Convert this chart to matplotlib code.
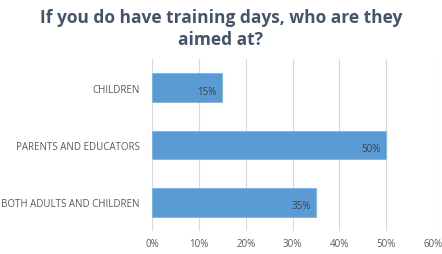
import matplotlib
matplotlib.use('Agg')
import matplotlib.pyplot as plt
from matplotlib.ticker import PercentFormatter

categories = ['CHILDREN', 'PARENTS AND EDUCATORS', 'BOTH ADULTS AND CHILDREN']
values = [15, 50, 35]
ticks = [0, 10, 20, 30, 40, 50, 60]

fig = plt.figure(figsize=(4.42, 2.55), dpi=100)
ax = fig.add_axes([0.344, 0.09, 0.636, 0.675])

ypos = list(range(len(categories)))
ax.barh(ypos, values, height=0.5, color='#5B9BD5', edgecolor='#7FB2E2', linewidth=0.6, zorder=3)
for y, v in zip(ypos, values):
    ax.text(v - 1.2, y + 0.06, f'{v}%', ha='right', va='center', fontsize=7,
            color='#404040', family='Open Sans', zorder=4)

ax.set_ylim(2.5, -0.5)
ax.set_xlim(0, 60)
ax.set_xticks(ticks)
ax.xaxis.set_major_formatter(PercentFormatter(decimals=0))
ax.set_yticks(ypos)
ax.set_yticklabels(categories)
ax.tick_params(length=0, labelsize=7, colors='#595959')
ax.tick_params(axis='y', pad=9)
ax.tick_params(axis='x', pad=5)
for lab in ax.get_xticklabels() + ax.get_yticklabels():
    lab.set_family('Open Sans')
ax.grid(axis='x', color='#D9D9D9', linewidth=0.8, zorder=0)
for s in ax.spines.values():
    s.set_visible(False)

fig.text(0.5, 0.885, 'If you do have training days, who are they\naimed at?', ha='center', va='center',
         fontsize=12.5, fontweight='bold', color='#44546A', family='Open Sans', linespacing=1.3)

fig.savefig('out.png', dpi=100)
